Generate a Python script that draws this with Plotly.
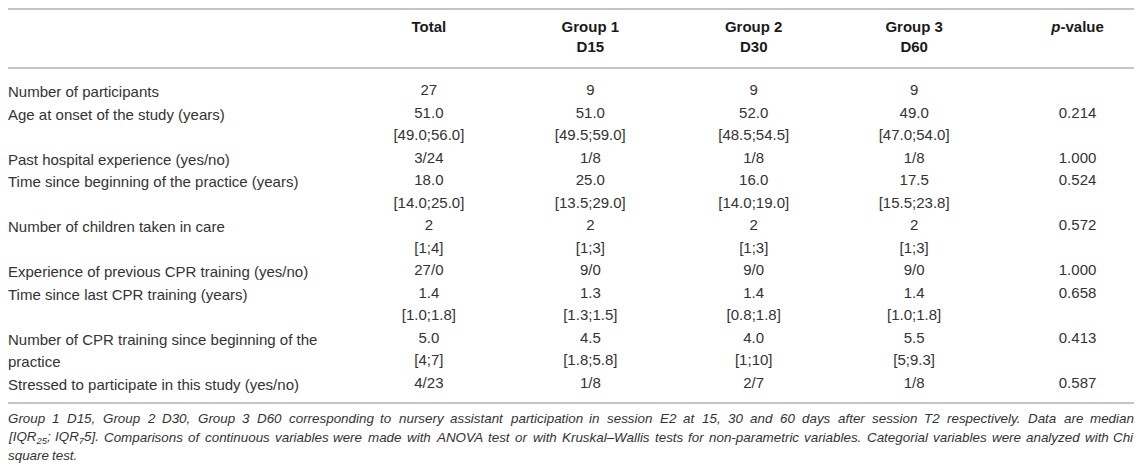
import re
import plotly.graph_objects as go

# table content
headers = ["Total", "Group 1<br>D15", "Group 2<br>D30", "Group 3<br>D60", "<i>p</i>-value"]
labels = ["Number of participants",
          "Age at onset of the study (years)",
          "Past hospital experience (yes/no)",
          "Time since beginning of the practice (years)",
          "Number of children taken in care",
          "Experience of previous CPR training (yes/no)",
          "Time since last CPR training (years)",
          "Number of CPR training since beginning of the<br>practice",
          "Stressed to participate in this study (yes/no)"]
total = ["27", "51.0<br>[49.0;56.0]", "3/24", "18.0<br>[14.0;25.0]", "2<br>[1;4]", "27/0",
         "1.4<br>[1.0;1.8]", "5.0<br>[4;7]", "4/23"]
group1 = ["9", "51.0<br>[49.5;59.0]", "1/8", "25.0<br>[13.5;29.0]", "2<br>[1;3]", "9/0",
          "1.3<br>[1.3;1.5]", "4.5<br>[1.8;5.8]", "1/8"]
group2 = ["9", "52.0<br>[48.5;54.5]", "1/8", "16.0<br>[14.0;19.0]", "2<br>[1;3]", "9/0",
          "1.4<br>[0.8;1.8]", "4.0<br>[1;10]", "2/7"]
group3 = ["9", "49.0<br>[47.0;54.0]", "1/8", "17.5<br>[15.5;23.8]", "2<br>[1;3]", "9/0",
          "1.4<br>[1.0;1.8]", "5.5<br>[5;9.3]", "1/8"]
p_values = ["", "0.214", "1.000", "0.524", "0.572", "1.000", "0.658", "0.413", "0.587"]
caption = ["Group 1 D15, Group 2 D30, Group 3 D60 corresponding to nursery assistant participation in session E2 at 15, 30 and 60 days after session T2 respectively. Data are median",
           "[IQR<sub>25</sub>; IQR<sub>7</sub>5]. Comparisons of continuous variables were made with ANOVA test or with Kruskal–Wallis tests for non-parametric variables. Categorial variables were analyzed with Chi",
           "square test."]

# layout (reference pixels); the html body keeps an 8px margin on every side,
# so the figure is 16px smaller and the axes map reference pixels onto it
W, H = 1143, 472
PAGE_PAD = 16
col_x = [428, 591, 756, 918, 1083]
left_x, right_x = 3, 1140
first_row_y = 87
row_step = 22.9
head_y = [23, 43]
rule_y = [3, 63, 404]
caption_y = [420, 439, 457]
font = "Liberation Sans, Arial, Helvetica, sans-serif"
txt_col = "#333333"
body_size = 15
cap_size = 13.4

# rough Helvetica/Arial advance widths (em) for justifying the caption
_w = {c: 0.556 for c in "abdeghnopqu0123456789–"}
_w.update({c: 0.5 for c in "cksvxyzJ"})
_w.update({c: 0.222 for c in "ijl"})
_w.update({c: 0.278 for c in "ft.,;:[]/ I"})
_w.update({"r": 0.333, "-": 0.333, "(": 0.333, ")": 0.333, "m": 0.833, "w": 0.722})
_w.update({c: 0.667 for c in "ABEKPSVXY"})
_w.update({c: 0.722 for c in "CDHNRU"})
_w.update({c: 0.611 for c in "FTZ"})
_w.update({"G": 0.778, "O": 0.778, "Q": 0.778, "M": 0.833, "W": 0.944, "L": 0.556})


def text_width(s, size):
    width, scale = 0.0, 1.0
    for part in re.split(r"(</?sub>|</?i>)", s):
        if part == "<sub>":
            scale = 0.7
        elif part == "</sub>":
            scale = 1.0
        elif part.startswith("<"):
            continue
        else:
            width += sum(_w.get(ch, 0.556) for ch in part) * size * scale
    return width


# line count per table row
n_lines = [max(len(c.split("<br>")) for c in (labels[i], total[i], group1[i], group2[i], group3[i]))
           for i in range(len(labels))]
row_start = []
k = 0
for n in n_lines:
    row_start.append(k)
    k += n


def column_points(cells):
    ys, texts = [], []
    for i, cell in enumerate(cells):
        for j, t in enumerate(cell.split("<br>")):
            if t:
                ys.append(first_row_y + row_step * (row_start[i] + j))
                texts.append(t)
    return ys, texts


fig = go.Figure()

# row labels, left aligned
ys, texts = column_points(labels)
for y, t in zip(ys, texts):
    fig.add_annotation(x=left_x, y=y, xref="x", yref="y", text=t, showarrow=False,
                       xanchor="left", yanchor="middle", borderpad=0, borderwidth=0,
                       font=dict(family=font, size=body_size, color=txt_col))

for cx, col in zip(col_x, [total, group1, group2, group3, p_values]):
    ys, texts = column_points(col)
    fig.add_trace(go.Scatter(x=[cx] * len(ys), y=ys, text=texts, mode="text",
                             textposition="middle center", cliponaxis=False,
                             textfont=dict(family=font, size=body_size, color=txt_col),
                             hoverinfo="skip", showlegend=False))

# header
hx, hy, ht = [], [], []
for cx, h in zip(col_x, headers):
    for j, part in enumerate(h.split("<br>")):
        hx.append(cx)
        hy.append(head_y[j])
        ht.append("<b>" + part + "</b>")
fig.add_trace(go.Scatter(x=hx, y=hy, text=ht, mode="text", textposition="middle center",
                         cliponaxis=False,
                         textfont=dict(family=font, size=body_size, color="#1a1a1a"),
                         hoverinfo="skip", showlegend=False))

for ry in rule_y:
    fig.add_shape(type="line", x0=left_x, x1=right_x, y0=ry, y1=ry, xref="x", yref="y",
                  line=dict(color="#c4c4c4", width=2))

# caption, justified like the journal layout (last line left aligned)
for li, (cy, line) in enumerate(zip(caption_y, caption)):
    words = line.split(" ")
    last = li == len(caption) - 1
    if last or len(words) == 1:
        gap = text_width(" ", cap_size)
    else:
        used = sum(text_width(w, cap_size) for w in words)
        gap = (right_x - left_x - used) / (len(words) - 1)
    x = left_x
    for wi, w in enumerate(words):
        is_end = (wi == len(words) - 1) and not last
        fig.add_annotation(x=right_x if is_end else x, y=cy, xref="x", yref="y",
                           text="<i>" + w + "</i>", showarrow=False,
                           xanchor="right" if is_end else "left", yanchor="middle",
                           borderpad=0, borderwidth=0,
                           font=dict(family=font, size=cap_size, color=txt_col))
        x += text_width(w, cap_size) + gap

fig.update_xaxes(range=[left_x, right_x + 1], visible=False, fixedrange=True)
fig.update_yaxes(range=[466, 2], visible=False, fixedrange=True)
fig.update_layout(width=W - PAGE_PAD, height=H - PAGE_PAD, margin=dict(l=0, r=0, t=0, b=0),
                  plot_bgcolor="white", paper_bgcolor="white")

fig.write_html("out.html")
